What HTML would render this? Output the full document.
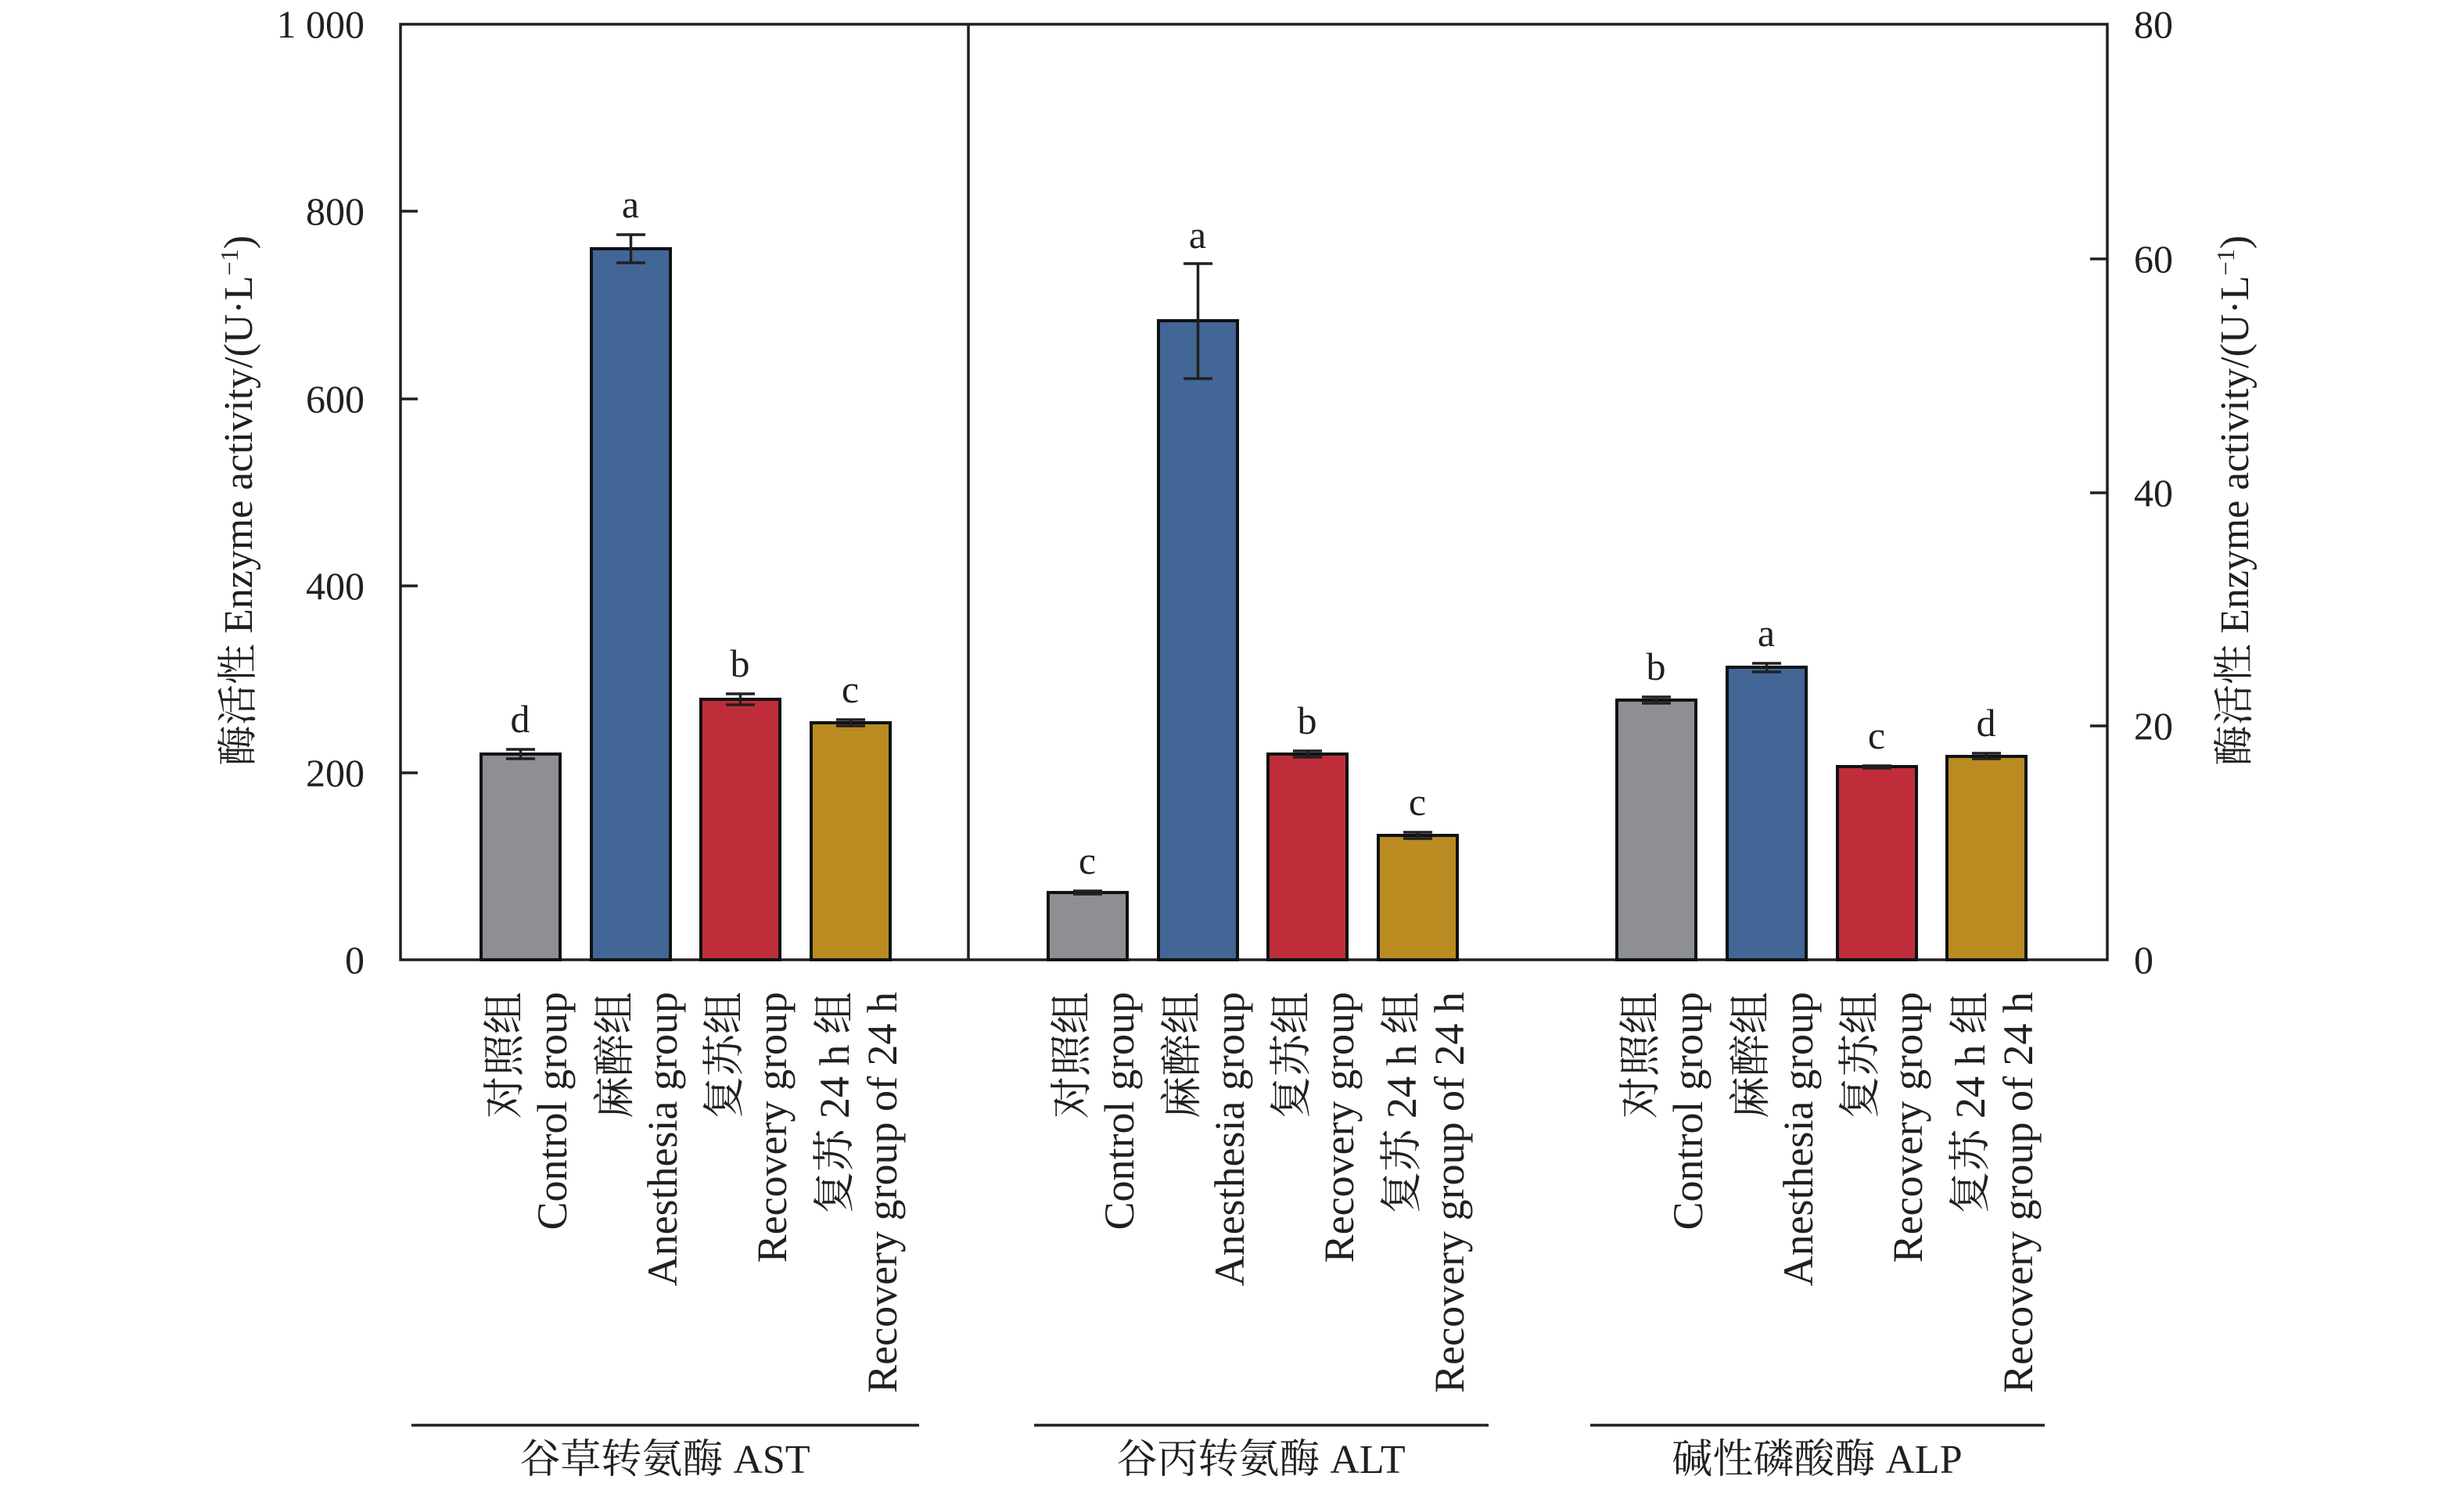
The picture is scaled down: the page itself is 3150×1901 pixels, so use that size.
<!DOCTYPE html>
<html><head><meta charset="utf-8"><style>
html,body{margin:0;padding:0;background:#fff;}
svg{display:block;}
svg text{font-family:"Liberation Serif","Noto Serif CJK SC",serif;fill:#231f20;}
</style></head><body>
<svg width="3150" height="1901" viewBox="0 0 3150 1901" xmlns="http://www.w3.org/2000/svg" font-family="'Liberation Serif','Noto Serif CJK SC',serif">
<g stroke="#231f20" stroke-width="3.5" fill="none">
<rect x="512" y="31" width="2182" height="1196"/>
<line x1="1238" y1="31" x2="1238" y2="1227"/>
<line x1="512" y1="988" x2="534" y2="988"/>
<line x1="512" y1="749" x2="534" y2="749"/>
<line x1="512" y1="510" x2="534" y2="510"/>
<line x1="512" y1="270" x2="534" y2="270"/>
<line x1="2694" y1="928" x2="2672" y2="928"/>
<line x1="2694" y1="630" x2="2672" y2="630"/>
<line x1="2694" y1="331" x2="2672" y2="331"/>
<line x1="526" y1="1822" x2="1175" y2="1822"/>
<line x1="1322" y1="1822" x2="1903" y2="1822"/>
<line x1="2033" y1="1822" x2="2614" y2="1822"/>
</g>
<g font-size="50" text-anchor="end">
<text x="466" y="48">1 000</text>
<text x="466" y="287">800</text>
<text x="466" y="527">600</text>
<text x="466" y="766">400</text>
<text x="466" y="1005">200</text>
<text x="466" y="1244">0</text>
</g>
<g font-size="50" text-anchor="start">
<text x="2728" y="48">80</text>
<text x="2728" y="348">60</text>
<text x="2728" y="647">40</text>
<text x="2728" y="945">20</text>
<text x="2728" y="1244">0</text>
</g>
<text transform="translate(322,640) rotate(-90)" font-size="52" text-anchor="middle">酶活性 Enzyme activity/(U·L<tspan dy="-18" font-size="32">−1</tspan><tspan dy="18">)</tspan></text>
<text transform="translate(2874,640) rotate(-90)" font-size="52" text-anchor="middle">酶活性 Enzyme activity/(U·L<tspan dy="-18" font-size="32">−1</tspan><tspan dy="18">)</tspan></text>

<g stroke="#0f1214" stroke-width="4">
<rect x="615" y="964" width="101" height="263" fill="#8e8f93"/>
<rect x="756" y="318" width="101" height="909" fill="#426696"/>
<rect x="896" y="894" width="101" height="333" fill="#c02d3a"/>
<rect x="1037" y="924" width="101" height="303" fill="#b98b20"/>
<rect x="1340" y="1141" width="101" height="86" fill="#8e8f93"/>
<rect x="1481" y="410" width="101" height="817" fill="#426696"/>
<rect x="1621" y="964" width="101" height="263" fill="#c02d3a"/>
<rect x="1762" y="1068" width="101" height="159" fill="#b98b20"/>
<rect x="2067" y="895" width="101" height="332" fill="#8e8f93"/>
<rect x="2208" y="853" width="101" height="374" fill="#426696"/>
<rect x="2349" y="980" width="101" height="247" fill="#c02d3a"/>
<rect x="2489" y="967" width="101" height="260" fill="#b98b20"/>
</g>
<g stroke="#231f20" stroke-width="3.5">
<path d="M665.5 958V970M647 958H684M647 970H684"/>
<path d="M806.5 300V336M788 300H825M788 336H825"/>
<path d="M946.5 887V901M928 887H965M928 901H965"/>
<path d="M1087.5 920V928M1069 920H1106M1069 928H1106"/>
<path d="M1390.5 1139V1143M1372 1139H1409M1372 1143H1409"/>
<path d="M1531.5 337V484M1513 337H1550M1513 484H1550"/>
<path d="M1671.5 960V968M1653 960H1690M1653 968H1690"/>
<path d="M1812.5 1064V1072M1794 1064H1831M1794 1072H1831"/>
<path d="M2117.5 891V899M2099 891H2136M2099 899H2136"/>
<path d="M2258.5 848V859M2240 848H2277M2240 859H2277"/>
<path d="M2399.5 979V982M2381 979H2418M2381 982H2418"/>
<path d="M2539.5 963V970M2521 963H2558M2521 970H2558"/>
</g>
<g font-size="50" text-anchor="middle">
<text x="665" y="936">d</text>
<text x="806" y="278">a</text>
<text x="946" y="865">b</text>
<text x="1087" y="898">c</text>
<text x="1390" y="1117">c</text>
<text x="1531" y="317">a</text>
<text x="1671" y="938">b</text>
<text x="1812" y="1042">c</text>
<text x="2117" y="869">b</text>
<text x="2258" y="826">a</text>
<text x="2399" y="957">c</text>
<text x="2539" y="941">d</text>
</g>
<g font-size="54" text-anchor="end">
<g id="labels">
<text transform="translate(663,1268) rotate(-90)">对照组</text>
<text transform="translate(724,1268) rotate(-90)">Control group</text>
<text transform="translate(804,1268) rotate(-90)">麻醉组</text>
<text transform="translate(865,1268) rotate(-90)">Anesthesia group</text>
<text transform="translate(944,1268) rotate(-90)">复苏组</text>
<text transform="translate(1005,1268) rotate(-90)">Recovery group</text>
<text transform="translate(1085,1268) rotate(-90)">复苏 24 h 组</text>
<text transform="translate(1146,1268) rotate(-90)">Recovery group of 24 h</text>
</g>
<use href="#labels" x="725"/>
<use href="#labels" x="1452"/>
</g>
<g font-size="52" text-anchor="middle">
<text x="850" y="1883">谷草转氨酶 AST</text>
<text x="1612" y="1883">谷丙转氨酶 ALT</text>
<text x="2323" y="1883">碱性磷酸酶 ALP</text>
</g>
</svg>
</body></html>
